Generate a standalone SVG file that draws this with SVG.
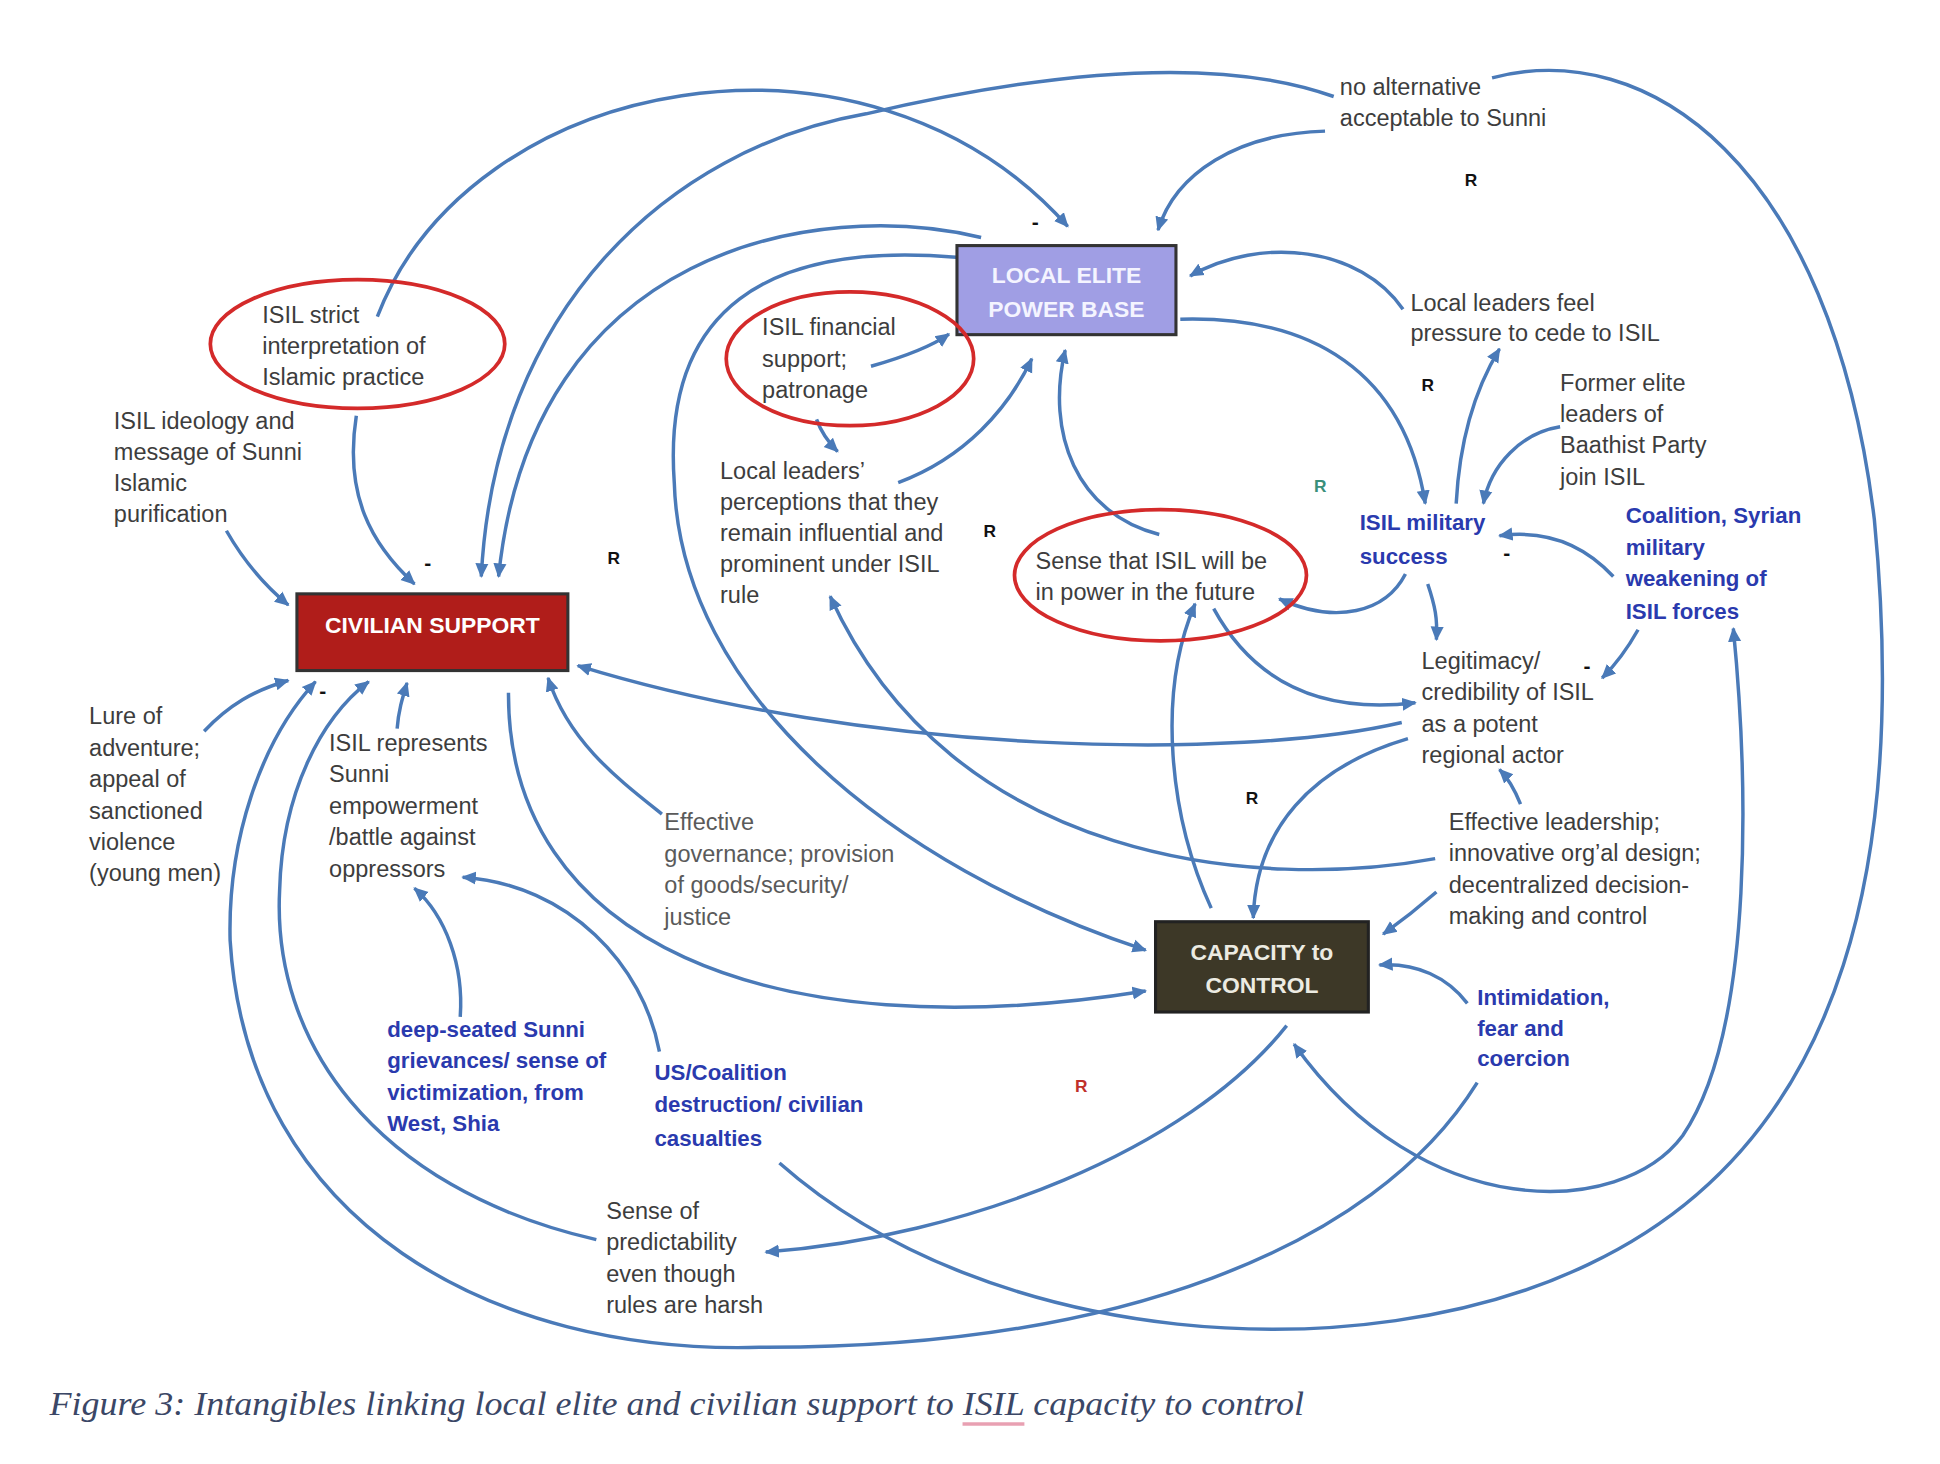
<svg xmlns="http://www.w3.org/2000/svg" width="1940" height="1464" viewBox="0 0 1940 1464">
<style>
.t{font-family:"Liberation Sans",Arial,sans-serif;font-size:19px;fill:#3d3d3d}
.g{fill:#5a5a5a}
.b{font-weight:bold;fill:#2a3aae;font-size:18px}
.bx{font-family:"Liberation Sans",Arial,sans-serif;font-weight:bold;font-size:18.5px;text-anchor:middle}
.lab{font-family:"Liberation Sans",Arial,sans-serif;font-weight:bold;font-size:14px;fill:#111}
.lab.dash{font-size:17px}
.lab.lg{fill:#3a8f7a}
.lab.lr{fill:#c0302a}
.c path{fill:none;stroke:#4a7ab8;stroke-width:2.8;marker-end:url(#ah)}
.c path.n{marker-end:none}
.ell{fill:none;stroke:#d42a2a;stroke-width:3}
</style>
<defs>
<marker id="ah" viewBox="0 0 10 10" refX="9" refY="5" markerWidth="4.2" markerHeight="4.2" orient="auto-start-reverse" markerUnits="strokeWidth">
<path d="M0,0.5 L10,5 L0,9.5 z" fill="#4a7ab8"/>
</marker>
</defs>
<rect width="1940" height="1464" fill="#ffffff"/>
<g transform="scale(1.2372)">
<g id="connectors" class="c">
<path d="M305,256 C380,60 700,0 863,183"/>
<path d="M1078,78 C1000,50 880,50 700,92 C540,120 400,250 389,466"/>
<path d="M793,192 C660,160 430,200 403,466"/>
<path d="M773,208 C620,195 535,250 545,390 C550,560 720,700 926,768"/>
<path d="M1071,106 C1000,108 950,140 936,186"/>
<path d="M1134,250 C1100,200 1020,190 962,223"/>
<path d="M954,258 C1060,255 1135,300 1152,407"/>
<path d="M1177,407 C1180,350 1195,310 1212,282"/>
<path d="M1261,345 C1230,350 1205,375 1199,407"/>
<path d="M704,296 C725,290 750,282 767,270"/>
<path d="M660,339 C664,350 670,358 677,365"/>
<path d="M726,390 C780,370 815,330 834,290"/>
<path d="M937,432 C870,415 845,350 861,283"/>
<path d="M1304,466 C1280,440 1250,428 1212,433"/>
<path d="M1136,464 C1120,495 1080,505 1034,484"/>
<path d="M1154,472 C1160,490 1162,500 1161,517"/>
<path d="M1324,509 C1315,525 1305,538 1295,548"/>
<path d="M981,492 C1010,545 1060,578 1144,568"/>
<path d="M979,734 C945,660 935,560 966,488"/>
<path d="M1138,597 C1060,620 1015,670 1013,742"/>
<path d="M1229,650 C1225,640 1220,630 1212,622"/>
<path d="M1161,721 C1145,735 1132,745 1118,755"/>
<path d="M1186,811 C1170,790 1145,778 1115,780"/>
<path d="M1040,829 C960,930 780,1000 619,1012"/>
<path d="M1401,508 C1412,620 1420,830 1360,918 C1310,985 1150,990 1046,844" style="marker-start:url(#ah)"/>
<path class="n" d="M1206,63 C1330,30 1480,130 1515,420 C1540,680 1500,920 1284,1022 C1100,1110 800,1090 630,940"/>
<path d="M1194,875 C1110,1010 900,1090 614,1089 C400,1095 200,990 186,760 C184,680 210,600 255,551"/>
<path d="M482,1002 C300,960 220,840 226,720 C228,640 260,580 298,551"/>
<path d="M288,336 C278,400 300,440 335,472"/>
<path d="M183,429 C195,450 210,470 233,489"/>
<path d="M165,591 C185,570 205,558 233,550"/>
<path d="M321,589 C322,575 325,565 329,552"/>
<path d="M535,658 C500,630 460,600 443,548"/>
<path d="M411,560 C410,760 620,850 926,801"/>
<path d="M1133,584 C1000,615 700,610 467,538"/>
<path d="M1160,694 C1020,720 770,700 671,482"/>
<path d="M372,822 C375,780 360,740 335,718"/>
<path d="M533,850 C520,780 460,715 374,709"/>
</g>
<g id="local-elite">
<rect x="773.5" y="198.5" width="177" height="72" fill="#a09ee4" stroke="#333" stroke-width="2.5"/>
<text class="bx" x="862" y="228.5" fill="#f4f4ff" font-size="18">LOCAL ELITE</text>
<text class="bx" x="862" y="256" fill="#f4f4ff" font-size="18">POWER BASE</text>
</g>
<g id="civilian-support">
<rect x="240" y="480" width="219" height="62" fill="#b01d1a" stroke="#333" stroke-width="2.5"/>
<text class="bx" x="349.5" y="512" fill="#ffffff">CIVILIAN SUPPORT</text>
</g>
<g id="capacity">
<rect x="934" y="745" width="172" height="73" fill="#3d3827" stroke="#222" stroke-width="2.5"/>
<text class="bx" x="1020" y="776" fill="#ecebe2">CAPACITY to</text>
<text class="bx" x="1020" y="803" fill="#ecebe2">CONTROL</text>
</g>
<g id="isil-strict">
<ellipse class="ell" cx="289" cy="278" rx="119" ry="52"/>
<text class="t" x="212" y="261">ISIL strict</text>
<text class="t" x="212" y="286">interpretation of</text>
<text class="t" x="212" y="311">Islamic practice</text>
</g>
<g id="isil-financial">
<ellipse class="ell" cx="687" cy="290" rx="100" ry="54"/>
<text class="t" x="616" y="271">ISIL financial</text>
<text class="t" x="616" y="297">support;</text>
<text class="t" x="616" y="322">patronage</text>
</g>
<g id="sense-future">
<ellipse class="ell" cx="938" cy="465" rx="118" ry="53"/>
<text class="t" x="837" y="460">Sense that ISIL will be</text>
<text class="t" x="837" y="485">in power in the future</text>
</g>
<g id="no-alternative">
<text class="t" x="1083" y="77">no alternative</text>
<text class="t" x="1083" y="102">acceptable to Sunni</text>
</g>
<g id="pressure">
<text class="t" x="1140" y="251">Local leaders feel</text>
<text class="t" x="1140" y="276">pressure to cede to ISIL</text>
</g>
<g id="former-elite">
<text class="t" x="1261" y="316">Former elite</text>
<text class="t" x="1261" y="341">leaders of</text>
<text class="t" x="1261" y="366">Baathist Party</text>
<text class="t" x="1261" y="392">join ISIL</text>
</g>
<g id="military-success">
<text class="t b" x="1099" y="428">ISIL military</text>
<text class="t b" x="1099" y="456">success</text>
</g>
<g id="coalition-weakening">
<text class="t b" x="1314" y="423">Coalition, Syrian</text>
<text class="t b" x="1314" y="449">military</text>
<text class="t b" x="1314" y="474">weakening of</text>
<text class="t b" x="1314" y="500">ISIL forces</text>
</g>
<g id="legitimacy">
<text class="t" x="1149" y="541">Legitimacy/</text>
<text class="t" x="1149" y="566">credibility of ISIL</text>
<text class="t" x="1149" y="592">as a potent</text>
<text class="t" x="1149" y="617">regional actor</text>
</g>
<g id="effective-leadership">
<text class="t" x="1171" y="671">Effective leadership;</text>
<text class="t" x="1171" y="696">innovative org’al design;</text>
<text class="t" x="1171" y="722">decentralized decision-</text>
<text class="t" x="1171" y="747">making and control</text>
</g>
<g id="intimidation">
<text class="t b" x="1194" y="812">Intimidation,</text>
<text class="t b" x="1194" y="837">fear and</text>
<text class="t b" x="1194" y="862">coercion</text>
</g>
<g id="ideology">
<text class="t" x="92" y="347">ISIL ideology and</text>
<text class="t" x="92" y="372">message of Sunni</text>
<text class="t" x="92" y="397">Islamic</text>
<text class="t" x="92" y="422">purification</text>
</g>
<g id="perceptions">
<text class="t" x="582" y="387">Local leaders’</text>
<text class="t" x="582" y="412">perceptions that they</text>
<text class="t" x="582" y="437">remain influential and</text>
<text class="t" x="582" y="462">prominent under ISIL</text>
<text class="t" x="582" y="487">rule</text>
</g>
<g id="lure">
<text class="t" x="72" y="585">Lure of</text>
<text class="t" x="72" y="611">adventure;</text>
<text class="t" x="72" y="636">appeal of</text>
<text class="t" x="72" y="662">sanctioned</text>
<text class="t" x="72" y="687">violence</text>
<text class="t" x="72" y="712">(young men)</text>
</g>
<g id="empowerment">
<text class="t" x="266" y="607">ISIL represents</text>
<text class="t" x="266" y="632">Sunni</text>
<text class="t" x="266" y="658">empowerment</text>
<text class="t" x="266" y="683">/battle against</text>
<text class="t" x="266" y="709">oppressors</text>
</g>
<g id="governance">
<text class="t g" x="537" y="671">Effective</text>
<text class="t g" x="537" y="697">governance; provision</text>
<text class="t g" x="537" y="722">of goods/security/</text>
<text class="t g" x="537" y="748">justice</text>
</g>
<g id="grievances">
<text class="t b" x="313" y="838">deep-seated Sunni</text>
<text class="t b" x="313" y="863">grievances/ sense of</text>
<text class="t b" x="313" y="889">victimization, from</text>
<text class="t b" x="313" y="914">West, Shia</text>
</g>
<g id="us-coalition">
<text class="t b" x="529" y="873">US/Coalition</text>
<text class="t b" x="529" y="899">destruction/ civilian</text>
<text class="t b" x="529" y="926">casualties</text>
</g>
<g id="predictability">
<text class="t" x="490" y="985">Sense of</text>
<text class="t" x="490" y="1010">predictability</text>
<text class="t" x="490" y="1036">even though</text>
<text class="t" x="490" y="1061">rules are harsh</text>
</g>
<g id="loop-labels">
<text class="lab dash" x="834" y="185">-</text>
<text class="lab" x="1184" y="150">R</text>
<text class="lab" x="1149" y="316">R</text>
<text class="lab lg" x="1062" y="398">R</text>
<text class="lab" x="795" y="434">R</text>
<text class="lab" x="491" y="456">R</text>
<text class="lab dash" x="343" y="461">-</text>
<text class="lab dash" x="258" y="564">-</text>
<text class="lab dash" x="1215" y="453">-</text>
<text class="lab dash" x="1280" y="544">-</text>
<text class="lab" x="1007" y="650">R</text>
<text class="lab lr" x="869" y="883">R</text>
</g>
<g id="caption">
<text x="40" y="1144" font-family="'Liberation Serif','Times New Roman',serif" font-style="italic" font-size="27" fill="#3b4766" textLength="1014" lengthAdjust="spacingAndGlyphs">Figure 3: Intangibles linking local elite and civilian support to ISIL capacity to control</text>
<line x1="778" y1="1151" x2="828" y2="1151" stroke="#e8a0b2" stroke-width="3"/>
</g>
</g>
</svg>
